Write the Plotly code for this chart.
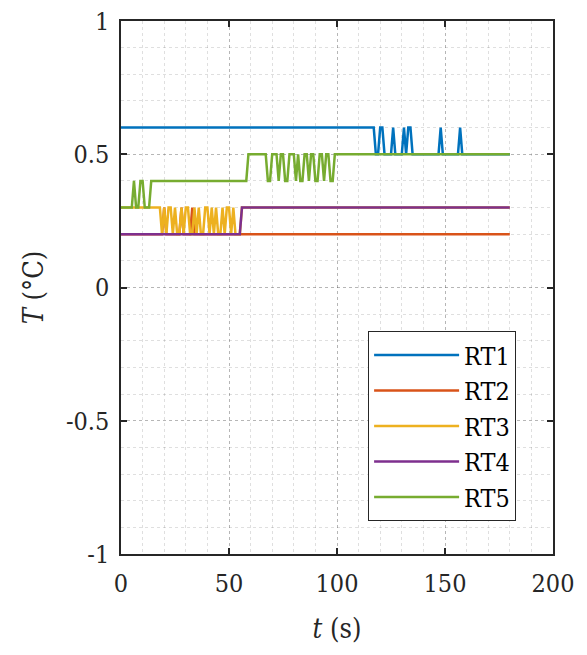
import plotly.graph_objects as go

# ---- data (breakpoints; lines connect them) ----
rt1_t = [0, 117, 118, 119, 120, 121, 122, 125, 126, 127, 130, 131, 132, 133, 134, 135, 147, 148, 149, 156, 157, 158, 180]
rt1_v = [0.6, 0.6, 0.5, 0.5, 0.6, 0.6, 0.5, 0.5, 0.6, 0.5, 0.5, 0.6, 0.5, 0.6, 0.6, 0.5, 0.5, 0.6, 0.5, 0.5, 0.6, 0.5, 0.5]

rt2_t = [0, 19, 20, 21, 27, 28, 29, 32, 33, 34, 180]
rt2_v = [0.2, 0.2, 0.3, 0.2, 0.2, 0.3, 0.2, 0.2, 0.3, 0.2, 0.2]

rt3_t = [0, 18, 19, 20, 21, 22, 23, 24, 25, 26, 27, 28, 29, 30, 31, 32, 33, 34, 35, 36, 37, 38,
         39, 40, 41, 42, 43, 44, 45, 46, 47, 48, 49, 50, 51, 52, 53, 55, 56, 180]
rt3_v = [0.3, 0.3, 0.2, 0.3, 0.2, 0.3, 0.3, 0.2, 0.3, 0.2, 0.2, 0.3, 0.2, 0.3, 0.3, 0.2, 0.2, 0.3, 0.2, 0.3, 0.2, 0.2,
         0.3, 0.3, 0.2, 0.3, 0.2, 0.3, 0.2, 0.2, 0.3, 0.2, 0.3, 0.3, 0.2, 0.3, 0.2, 0.2, 0.3, 0.3]

rt4_t = [0, 55, 56, 180]
rt4_v = [0.2, 0.2, 0.3, 0.3]

rt5_t = [0, 5, 6, 7, 8, 9, 10, 11, 13, 14, 58, 59, 67, 68, 69, 70, 72, 73, 74, 75, 76, 77, 78, 80,
         81, 82, 83, 84, 85, 86, 87, 88, 89, 90, 91, 92, 93, 94, 95, 96, 97, 98, 99, 180]
rt5_v = [0.3, 0.3, 0.4, 0.3, 0.3, 0.4, 0.4, 0.3, 0.3, 0.4, 0.4, 0.5, 0.5, 0.4, 0.4, 0.5, 0.5, 0.4, 0.5, 0.5, 0.4, 0.4, 0.5, 0.5,
         0.4, 0.5, 0.4, 0.4, 0.5, 0.5, 0.4, 0.5, 0.5, 0.4, 0.4, 0.5, 0.5, 0.4, 0.5, 0.5, 0.4, 0.4, 0.5, 0.5]

series = [
    ("RT1", rt1_t, rt1_v, "#0072BD"),
    ("RT2", rt2_t, rt2_v, "#D95319"),
    ("RT3", rt3_t, rt3_v, "#EDB120"),
    ("RT4", rt4_t, rt4_v, "#7E2F8E"),
    ("RT5", rt5_t, rt5_v, "#77AC30"),
]

x_ticks = [0, 50, 100, 150, 200]
y_ticks = [-1, -0.5, 0, 0.5, 1]
y_ticklabels = ["-1", "-0.5", "0", "0.5", "1"]

FONT = "'DejaVu Serif Condensed', 'DejaVu Serif', serif"

fig = go.Figure()
for name, t, v, c in series:
    fig.add_trace(go.Scatter(x=t, y=v, mode="lines", name=name,
                             line=dict(color=c, width=2.5)))

axis_common = dict(
    showline=True, linecolor="#262626", linewidth=1.5, mirror="ticks",
    ticks="inside", ticklen=6, tickwidth=1.5, tickcolor="#262626",
    showgrid=True, gridcolor="rgba(38,38,38,0.22)", griddash="dot", gridwidth=1,
    zeroline=False, ticklabeloverflow="allow", automargin=False,
    tickfont=dict(family=FONT, size=25, color="#262626"),
)

fig.update_layout(
    width=579, height=647,
    margin=dict(l=113, r=34, t=13, b=101),
    paper_bgcolor="white", plot_bgcolor="white",
    font=dict(family=FONT, size=25, color="#262626"),
    showlegend=True,
    legend=dict(
        x=0.572, y=0.418, xanchor="left", yanchor="top",
        bgcolor="white", bordercolor="#262626", borderwidth=1,
        font=dict(family=FONT, size=25, color="black"),
        tracegroupgap=0, itemwidth=85,
    ),
    xaxis=dict(
        range=[0, 200], tickvals=x_ticks, ticktext=[str(v) for v in x_ticks],
        minor=dict(dtick=10, showgrid=True, gridcolor="rgba(38,38,38,0.15)", griddash="dot", ticks=""),
        title=dict(text="<i>t</i> (s)", font=dict(family=FONT, size=27, color="#262626"), standoff=22),
        ticklabelstandoff=6,
        **axis_common,
    ),
    yaxis=dict(
        range=[-1, 1], tickvals=y_ticks, ticktext=y_ticklabels,
        minor=dict(dtick=0.1, showgrid=True, gridcolor="rgba(38,38,38,0.15)", griddash="dot", ticks=""),
        title=dict(text="<i>T</i> (°C)", font=dict(family=FONT, size=27, color="#262626"), standoff=14),
        ticklabelstandoff=5,
        **axis_common,
    ),
)

fig.write_html("out.html")
